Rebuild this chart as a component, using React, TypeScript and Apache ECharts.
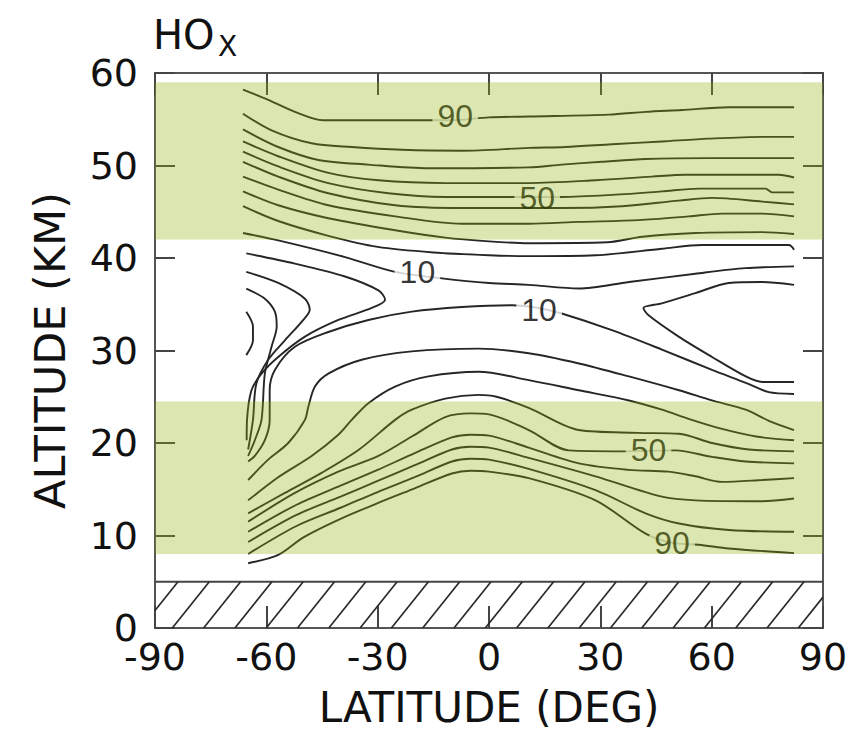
import React, { useEffect, useRef } from "react";
import * as echarts from "echarts";

// Axis ranges and ticks
const latRange = [-90, 90];
const latStep = 30;
const altRange = [0, 60];
const altStep = 10;

// Shaded (green) altitude bands [bottom, top] in km
const greenBands = [
  [42, 59],
  [8, 24.5],
];
// Hatched surface region [bottom, top] in km
const surfaceBand = [0, 5];

// Contour lines, [latitude, altitude]
const u1 = [[-66.3, 58.2], [-59.5, 57.1], [-52.3, 55.8], [-44.7, 54.9], [-30, 54.9], [-10, 54.9], [0, 55.2], [10.7, 55.3], [32.3, 55.5], [42.2, 55.8], [52, 56], [64.6, 56.3], [82.2, 56.3]];
const u2 = [[-66.3, 55.6], [-58.6, 53.8], [-47.8, 52.4], [-37, 52.0], [-23.5, 51.7], [-7.3, 51.6], [10.7, 51.9], [20.6, 52.0], [33.1, 52.3], [46.6, 52.6], [59.2, 52.9], [73.6, 53.1], [82.2, 53.1]];
const u3 = [[-66.3, 53.9], [-56.8, 52.0], [-46, 50.6], [-32.5, 50.1], [-16.3, 49.7], [10.7, 49.8], [19.6, 50.1], [30.4, 50.4], [42.2, 50.7], [59.2, 50.8], [82.2, 50.8]];
const u4 = [[-66.3, 52.6], [-56.8, 51.0], [-43.3, 49.2], [-29.8, 48.4], [-11.8, 48.1], [10.7, 48.1], [28.7, 48.4], [43.9, 48.8], [53, 49.0], [78.1, 49.0], [82.2, 48.7]];
const u5 = [[-66.3, 51.5], [-56.8, 49.9], [-43.3, 48.1], [-27.1, 47.0], [-11.8, 46.6], [6.2, 46.6], [19.6, 46.6], [32.3, 46.8], [46.6, 47.2], [56.5, 47.5], [74.5, 47.5], [76.3, 47.1], [82.2, 47.1]];
const u6 = [[-66.3, 50.4], [-56.8, 48.8], [-43.3, 47.0], [-25.3, 45.7], [-7.3, 45.4], [10.7, 45.4], [19.6, 45.4], [35.8, 45.6], [51.1, 46.2], [60.1, 46.5], [73.6, 46.1], [82.2, 45.8]];
const u7 = [[-66.3, 48.8], [-56.8, 47.4], [-43.3, 45.7], [-25.3, 44.5], [-7.3, 43.7], [10.7, 43.7], [24.2, 43.9], [40.4, 44.1], [53.8, 44.5], [62.8, 44.8], [73.6, 44.8], [82.2, 44.5]];
const u8 = [[-66.3, 47.2], [-56.8, 45.7], [-43.3, 44.3], [-25.3, 43.0], [-11.8, 42.2], [0, 41.8], [10.7, 41.6], [31.9, 41.7], [41.3, 42.3], [55.6, 42.7], [73.6, 42.8], [82.2, 42.6]];
const u9 = [[-66.3, 45.6], [-56.8, 44.0], [-43.3, 42.4], [-30, 41.2], [-15, 40.6], [0, 40.3], [10.7, 40.2], [28.7, 40.3], [46.6, 41.0], [57.4, 41.4], [80.8, 41.4], [82.2, 40.9]];
const u10 = [[-66.3, 42.7], [-56.8, 41.9], [-38.8, 40.1], [-25.3, 38.5], [-12.7, 37.8], [0, 37.3], [10.7, 37.1], [24.2, 36.7], [37.7, 37.4], [55.6, 38.3], [69.1, 38.9], [82.2, 39.1]];
const noseA = [[-65.4, 40.5], [-52.3, 39.4], [-38.8, 38.0], [-29.8, 36.5], [-28.0, 35.5], [-31.6, 34.6], [-40.6, 33.3], [-49.6, 31.5], [-56.8, 29.3], [-61.3, 27.5], [-64.0, 25.7], [-65.2, 22.5], [-65.3, 20.3]];
const noseB = [[-65.4, 38.5], [-56.8, 37.3], [-49.6, 35.6], [-48.3, 34.4], [-50.5, 33.1], [-55.0, 31.1], [-59.5, 29.0], [-62.7, 26.4], [-63.6, 22.5], [-64.9, 19.3]];
const noseC = [[-65.4, 36.7], [-60.4, 35.6], [-57.7, 34.2], [-57.2, 32.6], [-58.6, 30.4], [-60.4, 27.5], [-61.3, 22.5], [-63.1, 20.3], [-64.9, 18.6]];
const noseD = [[-65.4, 34.2], [-63.6, 32.6], [-63.6, 31.1], [-65.4, 29.5]];
const midLow = [[-64.9, 18.0], [-63.1, 18.6], [-60.4, 20.3], [-59.1, 22.5], [-59.1, 25.7], [-57.7, 27.9], [-52.3, 30.4], [-43.3, 32.0], [-32.5, 33.3], [-20.8, 34.2], [-7.3, 34.7], [6.2, 34.9], [13.3, 34.6], [19.6, 34.0], [33.1, 32.2], [46.6, 30.1], [60.1, 27.9], [69.2, 26.5], [75.4, 25.5], [82.2, 25.3]];
const noseRight = [[82.2, 37.1], [73.6, 37.4], [64.6, 37.3], [55.6, 36.2], [46.6, 35.1], [41.6, 34.6], [43.0, 33.8], [51.1, 31.5], [60.1, 29.3], [69.2, 27.2], [73.6, 26.6], [82.2, 26.6]];
const l0 = [[-64.9, 16.0], [-59.5, 18.2], [-54.1, 20.0], [-49.6, 22.5], [-48.7, 23.9], [-46.9, 26.1], [-43.3, 27.5], [-34.3, 29.0], [-20.8, 29.9], [-2.8, 30.2], [10.7, 29.7], [24.2, 28.6], [37.7, 27.2], [51.2, 25.7], [60.1, 24.6], [69.2, 23.6], [75.4, 22.4], [82.2, 21.4]];
const l1 = [[-64.9, 13.8], [-56.8, 16.3], [-47.8, 18.6], [-40.6, 20.9], [-37, 22.5], [-32.5, 24.3], [-25.3, 26.1], [-16.3, 27.2], [-2.8, 27.7], [10.7, 26.8], [24.2, 25.7], [37.7, 24.6], [46.6, 23.6], [53.8, 22.6], [62, 21.6], [72, 20.7], [82.2, 20.3]];
const l2 = [[-64.9, 12.4], [-55, 14.6], [-45, 16.8], [-35, 19.3], [-25.3, 22.5], [-20.8, 23.6], [-11.8, 24.8], [-2.8, 25.2], [2, 25.0], [10.7, 23.8], [24.2, 21.4], [40, 21.1], [51.2, 21.0], [60.1, 20.0], [70, 19.3], [82.2, 19.1]];
const l3 = [[-64.9, 11.5], [-52.3, 14.6], [-40.6, 16.9], [-29.8, 18.6], [-20.8, 20.7], [-11.8, 22.8], [-5, 23.2], [0, 23.1], [10.7, 21.4], [21.5, 19.2], [35.8, 19.1], [50.3, 19.2], [60.1, 18.5], [69.2, 18.0], [82.2, 17.8]];
const l4 = [[-64.9, 10.4], [-52, 13.3], [-40, 15.4], [-30, 17.1], [-20, 18.9], [-10, 20.6], [-5, 20.9], [0, 20.8], [10.7, 19.5], [24.2, 17.8], [37.7, 17.1], [48.4, 16.9], [55.6, 16.4], [62.8, 15.8], [73.6, 16.0], [82.2, 16.2]];
const l5 = [[-64.9, 9.3], [-52, 12.2], [-40, 14.2], [-30, 15.9], [-20, 17.6], [-10, 19.3], [-5, 19.6], [0, 19.5], [10.7, 18.4], [28.7, 16.4], [46.6, 14.2], [55.6, 13.8], [73.6, 13.7], [82.2, 14.0]];
const l6 = [[-64.9, 8.0], [-52, 11.0], [-40, 13.0], [-30, 14.7], [-20, 16.3], [-10, 18.0], [-5, 18.3], [0, 18.2], [10.7, 17.2], [28.7, 14.9], [42.2, 12.4], [51.2, 11.3], [64.6, 10.6], [82.2, 10.4]];
const l7 = [[-64.9, 7.0], [-56.8, 7.9], [-50, 9.8], [-40, 11.8], [-30, 13.5], [-20, 15.1], [-10, 16.7], [-5, 17.0], [0, 16.9], [10.7, 16.2], [28.7, 13.8], [42.2, 10.2], [49.3, 9.2], [56.5, 9.0], [64.6, 8.6], [82.2, 8.1]];

const contourLines = [u1, u2, u3, u4, u5, u6, u7, u8, u9, u10, noseA, noseB, noseC, noseD, midLow, noseRight, l0, l1, l2, l3, l4, l5, l6, l7];

// Contour labels
const labelText = ["90", "50", "10", "10", "50", "90"];
const labelLat = [-9.1, 13.0, -19.3, 13.5, 43.0, 49.3];
const labelAlt = [55.3, 46.5, 38.5, 34.4, 19.2, 9.2];

const INK = "#111111";
const BAND = "rgba(143,177,8,0.32)";
const AXIS_FONT = "DejaVu Sans";

export default function App() {
  const ref = useRef<HTMLDivElement>(null);

  useEffect(() => {
    if (!ref.current) return;
    const chart = echarts.init(ref.current, null, { renderer: "svg" });

    const lineSeries = contourLines.map((pts, i) => ({
      type: "line",
      name: "contour" + i,
      data: pts,
      smooth: 0.3,
      symbol: "none",
      silent: true,
      z: 2,
      lineStyle: { color: "#262626", width: 1.9 },
    }));

    const tickStyle = { show: true, inside: true, length: 22, lineStyle: { color: "#444", width: 2 } };

    const option: any = {
      animation: false,
      backgroundColor: "#ffffff",
      grid: {
        left: 155,
        right: 43,
        top: 73,
        bottom: 115,
        show: true,
        borderColor: "#555",
        borderWidth: 2,
        backgroundColor: "transparent",
      },
      graphic: [
        {
          type: "text",
          left: 153,
          top: 15,
          style: { text: "HO", font: '40px "DejaVu Sans"', fill: INK },
        },
        {
          type: "text",
          left: 218,
          top: 32,
          style: { text: "X", font: '28px "DejaVu Sans"', fill: INK },
        },
      ],
      xAxis: [
        {
          type: "value",
          min: latRange[0],
          max: latRange[1],
          interval: latStep,
          position: "bottom",
          axisLine: { show: false, onZero: false },
          axisTick: tickStyle,
          splitLine: { show: false },
          axisLabel: { fontFamily: AXIS_FONT, fontSize: 38, lineHeight: 30, color: INK, margin: 14 },
          name: "LATITUDE (DEG)",
          nameLocation: "middle",
          nameGap: 58,
          nameTextStyle: { fontFamily: AXIS_FONT, fontSize: 42, color: INK },
        },
        {
          type: "value",
          min: latRange[0],
          max: latRange[1],
          interval: latStep,
          position: "top",
          axisLine: { show: false, onZero: false },
          axisTick: tickStyle,
          splitLine: { show: false },
          axisLabel: { show: false },
        },
      ],
      yAxis: [
        {
          type: "value",
          min: altRange[0],
          max: altRange[1],
          interval: altStep,
          position: "left",
          axisLine: { show: false, onZero: false },
          axisTick: { ...tickStyle, length: 20 },
          splitLine: { show: false },
          axisLabel: { fontFamily: AXIS_FONT, fontSize: 38, lineHeight: 30, color: INK, margin: 17 },
          name: "ALTITUDE (KM)",
          nameLocation: "middle",
          nameRotate: 90,
          nameGap: 84,
          nameTextStyle: { fontFamily: AXIS_FONT, fontSize: 43, color: INK },
        },
        {
          type: "value",
          min: altRange[0],
          max: altRange[1],
          interval: altStep,
          position: "right",
          axisLine: { show: false, onZero: false },
          axisTick: { ...tickStyle, length: 20 },
          splitLine: { show: false },
          axisLabel: { show: false },
        },
      ],
      series: [
        {
          type: "custom",
          name: "surface",
          silent: true,
          z: 1,
          encode: { x: [0, 1], y: [2, 3] },
          data: [[latRange[0], latRange[1], surfaceBand[0], surfaceBand[1]]],
          renderItem: (params: any, api: any) => {
            const p0 = api.coord([api.value(0), api.value(2)]);
            const p1 = api.coord([api.value(1), api.value(3)]);
            const L = p0[0];
            const R = p1[0];
            const B = p0[1];
            const T = p1[1];
            const h = B - T;
            const dx = h * 0.8;
            const step = 31.3;
            const children: any[] = [
              {
                type: "line",
                shape: { x1: L, y1: T, x2: R, y2: T },
                style: { stroke: "#444", lineWidth: 2 },
              },
            ];
            for (let b = L + 17.3 - Math.ceil(dx / step) * step; b < R; b += step) {
              const tMin = Math.max(0, (L - b) / dx);
              const tMax = Math.min(1, (R - b) / dx);
              if (tMax <= tMin) continue;
              children.push({
                type: "line",
                shape: {
                  x1: b + tMin * dx,
                  y1: B - tMin * h,
                  x2: b + tMax * dx,
                  y2: B - tMax * h,
                },
                style: { stroke: "#2a2a2a", lineWidth: 1.7 },
              });
            }
            return { type: "group", children };
          },
        },
        ...lineSeries,
        {
          type: "scatter",
          name: "labels",
          silent: true,
          z: 4,
          symbolSize: 1,
          itemStyle: { color: "rgba(0,0,0,0)" },
          data: labelText.map((t, i) => [labelLat[i], labelAlt[i], t]),
          label: {
            show: true,
            position: "inside",
            formatter: (p: any) => p.value[2],
            fontFamily: "Liberation Sans",
            fontSize: 32,
            lineHeight: 16,
            color: "#000",
            backgroundColor: "#ffffff",
            padding: [0, 5],
          },
        },
        {
          type: "custom",
          name: "bands",
          silent: true,
          z: 10,
          encode: { x: [0, 1], y: [2, 3] },
          data: greenBands.map((b) => [latRange[0], latRange[1], b[0], b[1]]),
          renderItem: (params: any, api: any) => {
            const p0 = api.coord([api.value(0), api.value(2)]);
            const p1 = api.coord([api.value(1), api.value(3)]);
            return {
              type: "rect",
              shape: { x: p0[0], y: p1[1], width: p1[0] - p0[0], height: p0[1] - p1[1] },
              style: { fill: BAND },
            };
          },
        },
      ],
    };

    chart.setOption(option);
    return () => chart.dispose();
  }, []);

  return (
    <div
      ref={ref}
      style={{ position: "fixed", left: 0, top: 0, width: 866, height: 743, background: "#fff" }}
    />
  );
}
